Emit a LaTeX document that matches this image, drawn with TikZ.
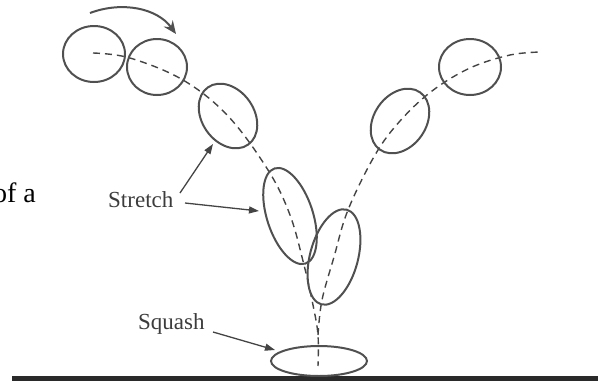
\documentclass[tikz,border=0pt]{standalone}
\usepackage{fontspec}
\setmainfont{Liberation Serif}
\usetikzlibrary{shapes.geometric,arrows.meta}
\definecolor{ink}{RGB}{80,80,80}
\definecolor{ground}{RGB}{42,42,42}
\tikzset{
  ball/.style={ellipse, draw=ink, line width=2pt, inner sep=0pt},
  pathline/.style={draw=ink!85!black, line width=1.4pt, dash pattern=on 7pt off 5pt},
  pointer/.style={draw=ink!85!black, line width=1.3pt, -{Triangle[length=10pt,width=7pt]}},
  lbl/.style={text=ink!75!black, font=\fontsize{23}{26}\selectfont, inner sep=0pt}
}
\begin{document}
\begin{tikzpicture}[x=1pt,y=-1pt]
\useasboundingbox (0,0) rectangle (598,381);
% ground
\fill[ground] (12,376) rectangle (598,381);
% trajectories
\draw[pathline] plot[smooth, tension=0.6] coordinates {(93,53) (130,58) (183,80) (228,116) (268,170) (290,215) (304,265) (313,305) (318,335) (318,366)};
\draw[pathline] plot[smooth, tension=0.6] coordinates {(318,335) (322,300) (334,257) (348,210) (375,155) (400,121) (432,91) (470,68) (510,55) (541,52)};
% balls
\node[ball, minimum width=62pt, minimum height=56pt] (e1) at (94,54) {};
\node[ball, minimum width=60pt, minimum height=56pt] (e2) at (157,67) {};
\node[ball, minimum width=70pt, minimum height=52pt, rotate=-55] (e3) at (228,116) {};
\node[ball, minimum width=100pt, minimum height=46pt, rotate=-72] (e4) at (290,216) {};
\node[ball, minimum width=98pt, minimum height=48pt, rotate=75] (e5) at (334,257) {};
\node[ball, minimum width=96pt, minimum height=30pt] (e6) at (319,361) {};
\node[ball, minimum width=70pt, minimum height=52pt, rotate=55] (e7) at (400,121) {};
\node[ball, minimum width=62pt, minimum height=56pt] (e8) at (470,67) {};
% rotation arrow
\coordinate (r0) at (90,13);
\coordinate (r1) at (176,34);
\draw[draw=ink, line width=2pt, -{Stealth[length=13pt,width=11pt]}] (r0) .. controls (122,1) and (157,8) .. (r1);
% labels
\node[lbl, anchor=base west] (stretch) at (108,207) {Stretch};
\node[lbl, anchor=base west] (squash) at (138,329) {Squash};
\node[anchor=base east, inner sep=0pt, font=\fontsize{28}{32}\selectfont] (ofa) at (36,202) {of a};
\coordinate (t1) at (213,144);
\coordinate (t2) at (259,211);
\coordinate (t3) at (275,350);
\draw[pointer] (180,193) -- (t1);
\draw[pointer] (185,203) -- (t2);
\draw[pointer] (213,332) -- (t3);
\end{tikzpicture}
\end{document}
